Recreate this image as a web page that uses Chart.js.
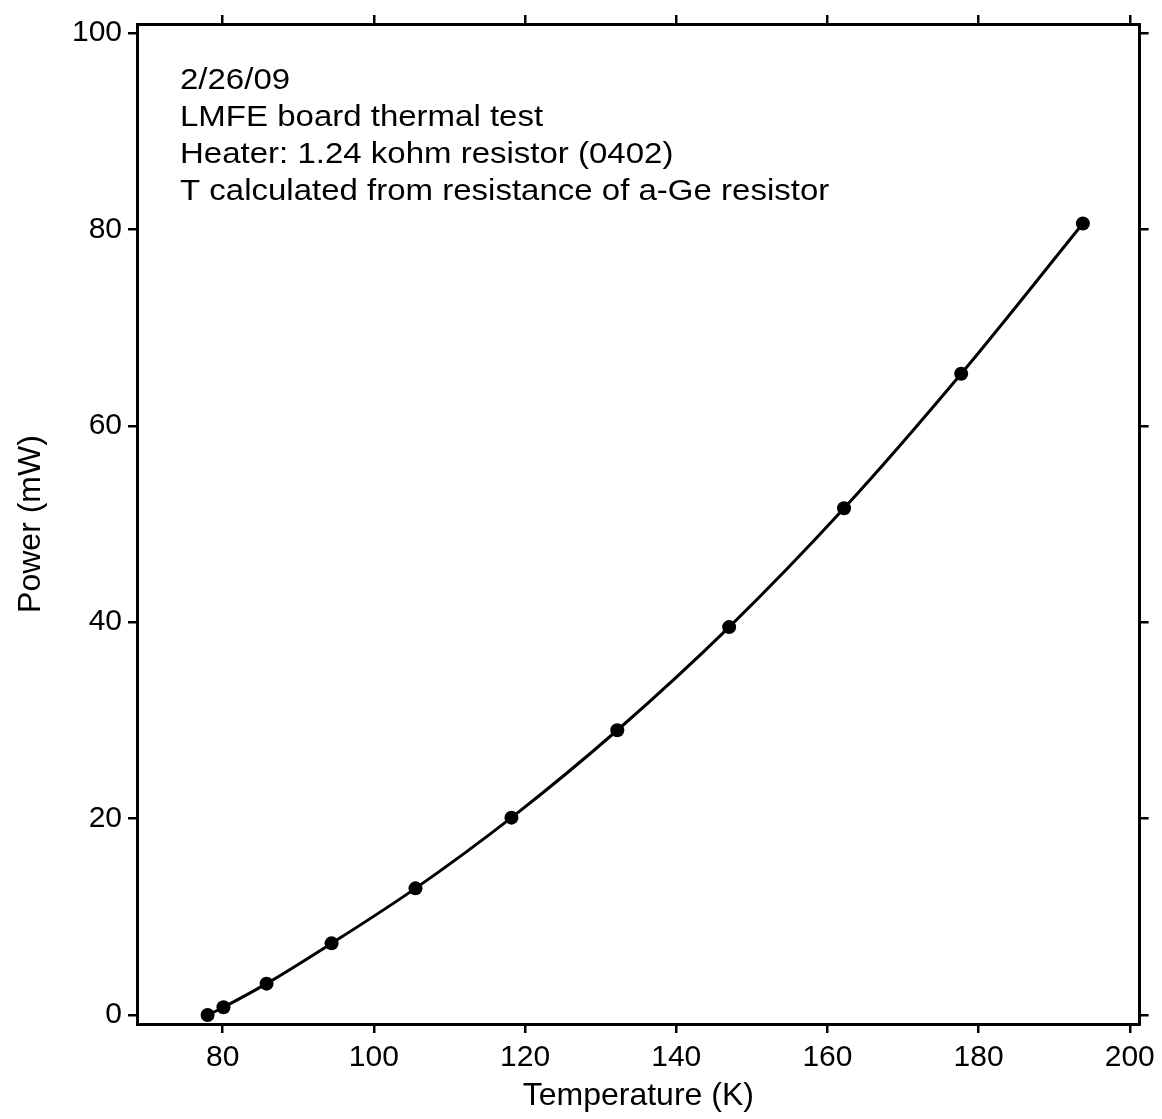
<!DOCTYPE html>
<html>
<head>
<meta charset="utf-8">
<script src="https://cdn.jsdelivr.net/npm/chart.js@4.4.1/dist/chart.umd.min.js"></script>
<style>
    body { margin: 0; background: #fff; }
    #wrap { width: 1162px; height: 1119px; }
</style>
</head>
<body>
<div id="wrap"><canvas id="chart1" width="1162" height="1119"></canvas></div>
<script>
    // values
    let temps = [78.0, 80.1, 85.8, 94.4, 105.5, 118.2, 132.2, 147.0, 162.2, 177.7, 193.8];
    let power = [0.0, 0.8, 3.2, 7.3, 12.9, 20.1, 29.0, 39.5, 51.6, 65.3, 80.6];
    let xTicks = [80, 100, 120, 140, 160, 180, 200];
    let yTicks = [0, 20, 40, 60, 80, 100];
    let notes = [
        '2/26/09',
        'LMFE board thermal test',
        'Heater: 1.24 kohm resistor (0402)',
        'T calculated from resistance of a-Ge resistor'
    ];

    let fontFam = "'Liberation Sans', Arial, sans-serif";

    // annotation block in the upper left of the plot
    let notesPlugin = {
        id: 'notes',
        afterDraw(chart) {
            let ctx = chart.ctx;
            ctx.save();
            ctx.fillStyle = '#000';
            ctx.font = '30px ' + fontFam;
            ctx.textBaseline = 'alphabetic';
            ctx.textAlign = 'left';
            for (let i = 0; i < notes.length; i++) {
                ctx.save();
                ctx.translate(chart.chartArea.left + 43, 89 + i * 37);
                ctx.scale(1.1, 1);
                ctx.fillText(notes[i], 0, 0);
                ctx.restore();
            }
            ctx.restore();
        }
    };

    let pts = temps.map((t, i) => ({x: t, y: power[i]}));

    function tickAxis(position, ticks, min, max, size, showLabels) {
        let horiz = position === 'top' || position === 'bottom';
        return {
            type: 'linear',
            position: position,
            min: min,
            max: max,
            afterBuildTicks: s => { s.ticks = ticks.map(v => ({value: v})); },
            afterFit: s => { if (horiz) s.height = size; else s.width = size; },
            border: {display: true, color: '#000', width: 3},
            grid: {drawOnChartArea: false, drawTicks: true, tickLength: 9, color: '#000', lineWidth: 2.5},
            ticks: {
                display: showLabels,
                color: '#000',
                padding: 6,
                font: {family: fontFam, size: 30}
            }
        };
    }

    let xAxis = tickAxis('bottom', xTicks, 68.66, 201.3, 95, true);
    xAxis.ticks.padding = 7;
    xAxis.title = {display: true, text: 'Temperature (K)', color: '#000',
        font: {family: fontFam, size: 32}, padding: {top: 0, bottom: 4}};

    let yAxis = tickAxis('left', yTicks, -0.91, 100.91, 137, true);
    yAxis.title = {display: true, text: 'Power (mW)', color: '#000',
        font: {family: fontFam, size: 32}, padding: {top: 12, bottom: 0}};

    let x2Axis = tickAxis('top', xTicks, 68.66, 201.3, 22, false);
    let y2Axis = tickAxis('right', yTicks, -0.91, 100.91, 19, false);

    let chart1 = document.getElementById('chart1').getContext('2d');

    let powerChart = new Chart(chart1, {
        type: 'line',
        data: {
            datasets: [{
                label: 'Power',
                data: pts,
                borderColor: '#000',
                backgroundColor: '#000',
                borderWidth: 3,
                pointRadius: 7,
                pointBackgroundColor: '#000',
                pointBorderWidth: 0,
                cubicInterpolationMode: 'monotone',
                fill: false
            }]
        },
        options: {
            responsive: false,
            animation: false,
            layout: {padding: 0},
            plugins: {
                legend: {display: false},
                tooltip: {enabled: false},
                title: {display: false}
            },
            scales: {
                x: xAxis,
                y: yAxis,
                x2: x2Axis,
                y2: y2Axis
            }
        },
        plugins: [notesPlugin]
    });
</script>
</body>
</html>
